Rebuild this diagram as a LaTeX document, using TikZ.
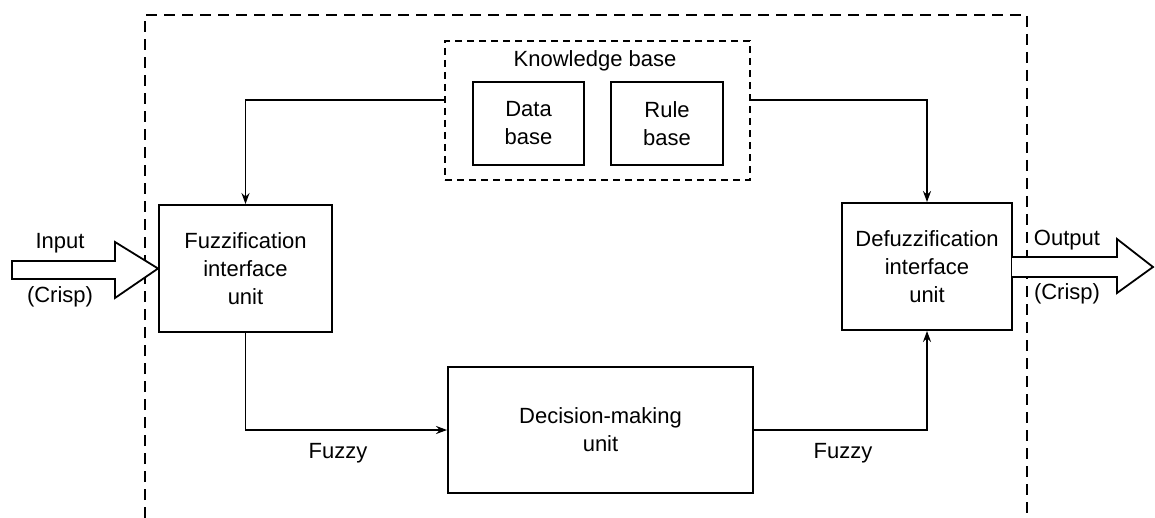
\documentclass[tikz,border=0pt]{standalone}
\usepackage{fontspec}
\setmainfont{Liberation Sans}
\usetikzlibrary{calc,arrows.meta}
\begin{document}
\begin{tikzpicture}[x=1pt,y=-1pt,
  every node/.style={font=\fontsize{22}{28}\selectfont, inner sep=0pt},
  box/.style={draw, line width=1.9pt, align=center},
  kbbox/.style={draw, line width=1.6pt, dash pattern=on 7pt off 5pt},
  outer/.style={line width=1.9pt, dash pattern=on 11pt off 7pt},
  conn/.style={line width=1.6pt},
  arr/.style={conn, -{Stealth[length=11pt,width=8pt]}},
  hollow/.style={draw, line width=1.8pt, fill=white, line join=miter},
  lbl/.style={align=center}]
\useasboundingbox (0,0) rectangle (1155,518);
% outer dashed frame (open at the bottom)
\draw[outer] (145,518) -- (145,15) -- (1027,15) -- (1027,518);
% knowledge base
\node[kbbox, minimum width=305pt, minimum height=139pt] (kb) at (597.5,110.5) {};
\node[lbl] (kbt) at (595,61) {Knowledge base};
\node[box, minimum width=111pt, minimum height=83pt] (data) at (528.5,123.5) {Data\\base};
\node[box, minimum width=112pt, minimum height=83pt] (rule) at (667,123.5) {Rule\\base};
% units
\node[box, minimum width=173pt, minimum height=127pt] (fuzz) at (245.5,268.5) {Fuzzification\\interface\\unit};
\node[box, minimum width=170pt, minimum height=127pt] (defuzz) at (927,266.5) {Defuzzification\\interface\\unit};
\node[box, minimum width=305pt, minimum height=126pt] (dec) at (600.5,430) {Decision-making\\unit};
% connectors
\draw[arr] ($(kb.north west)+(0,60)$) -| (fuzz.north);
\draw[arr] ($(kb.north east)+(0,60)$) -| (defuzz.north);
\draw[arr] (fuzz.south) |- (dec.west);
\draw[arr] (dec.east) -| (defuzz.south);
\node[lbl] (fz1) at (338,453) {Fuzzy};
\node[lbl] (fz2) at (843,453) {Fuzzy};
% input hollow arrow
\coordinate (inTip) at (fuzz.west);
\draw[hollow] (12,261) -- (115,261) -- (115,242) -- (inTip) -- (115,298) -- (115,279) -- (12,279) -- cycle;
\node[lbl] (inl) at (60,243) {Input};
\node[lbl] (inc) at (60,297) {(Crisp)};
% output hollow arrow
\coordinate (outTip) at (1153,267);
\draw[hollow] (1012,257) -- (1117,257) -- (1117,239) -- (outTip) -- (1117,293) -- (1117,277) -- (1012,277);
\node[lbl] (outl) at (1067,240) {Output};
\node[lbl] (outc) at (1067,294) {(Crisp)};
\end{tikzpicture}
\end{document}
